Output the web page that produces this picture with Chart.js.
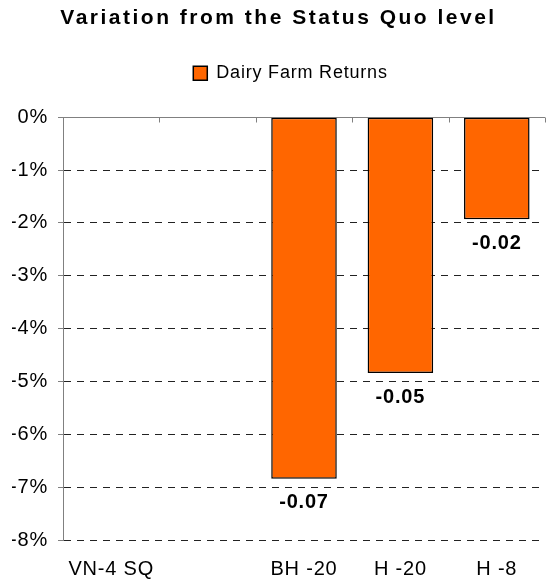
<!DOCTYPE html>
<html>
<head>
<meta charset="utf-8">
<script src="https://cdn.jsdelivr.net/npm/chart.js@4/dist/chart.umd.min.js"></script>
<style>
  html, body { margin: 0; padding: 0; background: #fff; }
  #wrap { width: 549px; height: 585px; }
</style>
</head>
<body>
<div id="wrap"><canvas id="chart"></canvas></div>
<script>
const categories = ['VN-4 SQ', '', 'BH -20', 'H -20', 'H -8'];
const dairyReturns = [0, null, -0.0684, -0.0484, -0.0193];
const yMin = -0.08;
const yMax = 0;
const yStep = 0.01;

const FONT = "'Liberation Sans', Arial, sans-serif";
const TEXT_SPACING = '0.8px';
const TITLE_SPACING = '2.5px';

// slightly loose text, title looser still
const spacing = {
    id: 'spacing',
    beforeInit(chart) {
        const tb = chart.titleBlock;
        const drawTitle = tb.draw.bind(tb);
        tb.draw = function () {
            const prev = this.ctx.letterSpacing;
            this.ctx.letterSpacing = TITLE_SPACING;
            drawTitle();
            this.ctx.letterSpacing = prev;
        };
        // extra room between the legend and the plot
        const lg = chart.legend;
        const fitLegend = lg.fit.bind(lg);
        lg.fit = function () {
            fitLegend();
            this.height += 25;
        };
    },
    beforeUpdate(chart) { chart.ctx.letterSpacing = TEXT_SPACING; },
    beforeLayout(chart) { chart.ctx.letterSpacing = TEXT_SPACING; },
    afterLayout(chart) {
        chart.legend.left += 12;
        chart.legend.right += 12;
    },
    beforeDraw(chart) { chart.ctx.letterSpacing = TEXT_SPACING; }
};

// small tick marks hanging from the zero line at category edges
const zeroTicks = {
    id: 'zeroTicks',
    afterDatasetsDraw(chart) {
        const { ctx, scales: { x, y } } = chart;
        const y0 = Math.round(y.getPixelForValue(0)) + 0.5;
        const step = (x.right - x.left) / categories.length;
        ctx.save();
        ctx.strokeStyle = '#808080';
        ctx.lineWidth = 1;
        ctx.beginPath();
        for (let i = 1; i <= categories.length; i++) {
            const px = Math.round(x.left + i * step) + 0.5;
            ctx.moveTo(px, y0);
            ctx.lineTo(px, y0 + 5);
        }
        ctx.stroke();
        ctx.restore();
    }
};

// value labels under each negative bar
const barValues = {
    id: 'barValues',
    afterDatasetsDraw(chart) {
        const { ctx } = chart;
        const meta = chart.getDatasetMeta(0);
        ctx.save();
        ctx.font = 'bold 20px ' + FONT;
        ctx.fillStyle = '#000';
        ctx.textAlign = 'center';
        ctx.textBaseline = 'middle';
        meta.data.forEach((bar, i) => {
            const v = dairyReturns[i];
            if (v == null || v === 0) return;
            ctx.fillText(v.toFixed(2), bar.x, bar.y + 24);
        });
        ctx.restore();
    }
};

new Chart(document.getElementById('chart'), {
    type: 'bar',
    data: {
        labels: categories,
        datasets: [{
            label: 'Dairy Farm Returns',
            data: dairyReturns,
            backgroundColor: '#FF6600',
            borderColor: '#000',
            borderWidth: 1.5,
            borderSkipped: false,
            barPercentage: 0.68,
            categoryPercentage: 1
        }]
    },
    options: {
        responsive: true,
        maintainAspectRatio: false,
        animation: false,
        layout: { padding: { left: 12, right: 4, top: 0, bottom: 0 } },
        plugins: {
            title: {
                display: true,
                text: 'Variation from the Status Quo level',
                color: '#000',
                font: { family: FONT, size: 21, weight: 'bold' },
                padding: { top: 6, bottom: 25 }
            },
            legend: {
                display: true,
                position: 'top',
                labels: {
                    color: '#000',
                    font: { family: FONT, size: 18 },
                    boxWidth: 14,
                    boxHeight: 14,
                    padding: 8
                }
            },
            tooltip: { enabled: false }
        },
        scales: {
            x: {
                afterFit(scale) { scale.height = 45; },
                grid: { display: false },
                border: { display: false },
                ticks: {
                    color: '#000',
                    font: { family: FONT, size: 20 },
                    maxRotation: 0,
                    autoSkip: false,
                    padding: 9
                }
            },
            y: {
                min: yMin,
                max: yMax,
                afterFit(scale) { scale.width = 51; },
                ticks: {
                    stepSize: yStep,
                    color: '#000',
                    font: { family: FONT, size: 20 },
                    padding: 10,
                    callback: v => Math.round(v * 100) + '%'
                },
                grid: {
                    color: ctx => ctx.tick && ctx.tick.value === 0 ? '#808080' : '#222',
                    tickColor: '#808080',
                    tickLength: 5,
                    lineWidth: 1
                },
                border: {
                    display: true,
                    color: '#808080',
                    width: 1,
                    dash: ctx => (ctx.tick && ctx.tick.value !== 0) ? [7, 6] : []
                }
            }
        }
    },
    plugins: [spacing, zeroTicks, barValues]
});
</script>
</body>
</html>
